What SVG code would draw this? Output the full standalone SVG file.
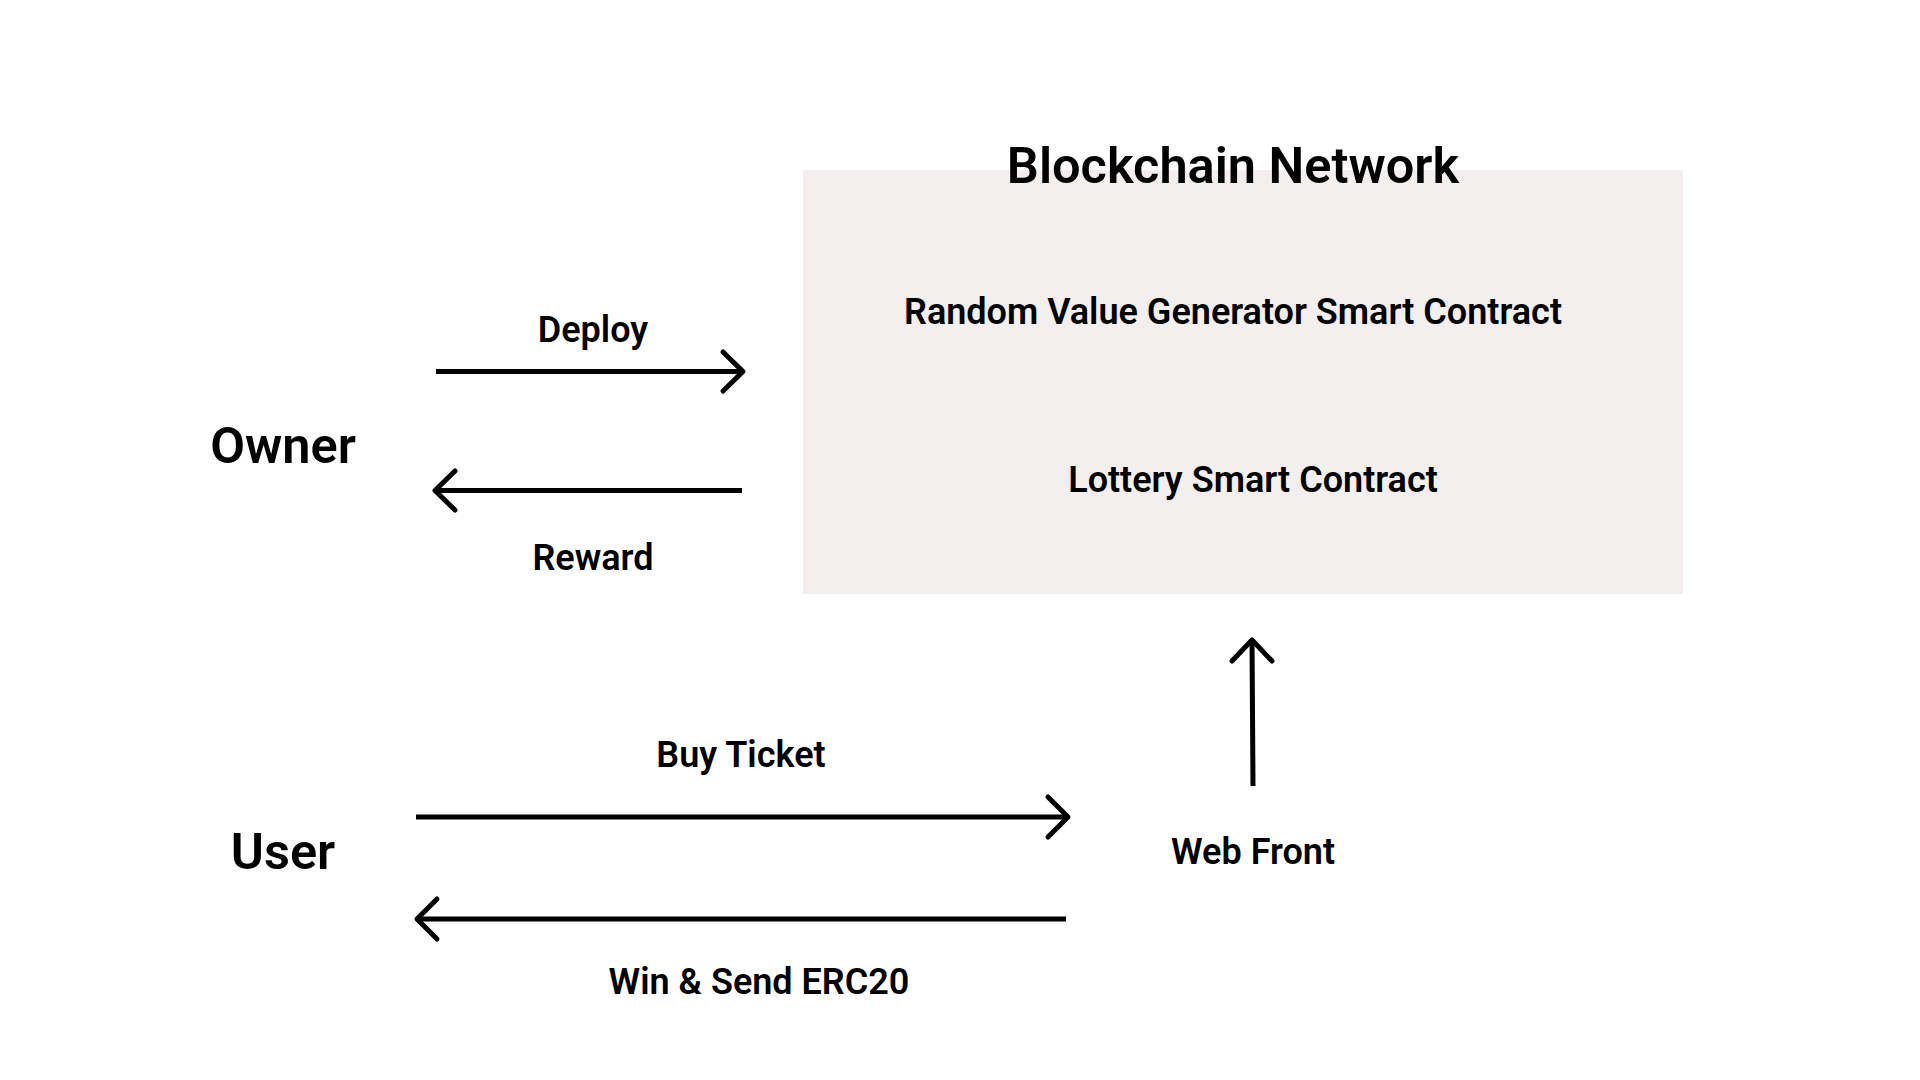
<svg xmlns="http://www.w3.org/2000/svg" width="1920" height="1080" viewBox="0 0 1920 1080">
<style>
text{font-family:"Roboto","Liberation Sans",sans-serif;font-weight:600;fill:#000;text-anchor:middle}
.big{font-size:50.5px}
.mid{font-size:36px}
.conn line,.conn polyline{stroke:#000;stroke-width:5;fill:none;stroke-linecap:round;stroke-linejoin:round}
.conn line{stroke-linecap:butt}
</style>
<rect width="1920" height="1080" fill="#fff"/>
<g id="blockchain-network">
<rect x="803" y="170" width="880" height="424" fill="#f2efee"/>
<text class="big" x="1233" y="183">Blockchain Network</text>
</g>
<g id="random-value-generator">
<text class="mid" x="1233" y="324">Random Value Generator Smart Contract</text>
</g>
<g id="lottery-contract">
<text class="mid" x="1253" y="492">Lottery Smart Contract</text>
</g>
<g id="owner">
<text class="big" x="283" y="463">Owner</text>
</g>
<g id="user">
<text class="big" x="283" y="869">User</text>
</g>
<g id="web-front">
<text class="mid" x="1253" y="864">Web Front</text>
</g>
<g class="conn" id="connectors">
<line x1="436" y1="371.5" x2="741" y2="371.5"/>
<polyline points="723,352 743,371.5 723,391"/>
<text class="mid" x="593" y="342">Deploy</text>
<line x1="438" y1="490.5" x2="742" y2="490.5"/>
<polyline points="455,471 435,490.5 455,510"/>
<text class="mid" x="593" y="570">Reward</text>
<line x1="416" y1="817" x2="1066" y2="817"/>
<polyline points="1048,797 1068,817 1048,837"/>
<text class="mid" x="741" y="767">Buy Ticket</text>
<line x1="419" y1="919" x2="1066" y2="919"/>
<polyline points="437,899 417,919 437,939"/>
<text class="mid" x="759" y="994">Win &amp; Send ERC20</text>
<line x1="1253" y1="786" x2="1252" y2="641"/>
<polyline points="1232,661 1252,640 1272,661"/>
</g>
</svg>
